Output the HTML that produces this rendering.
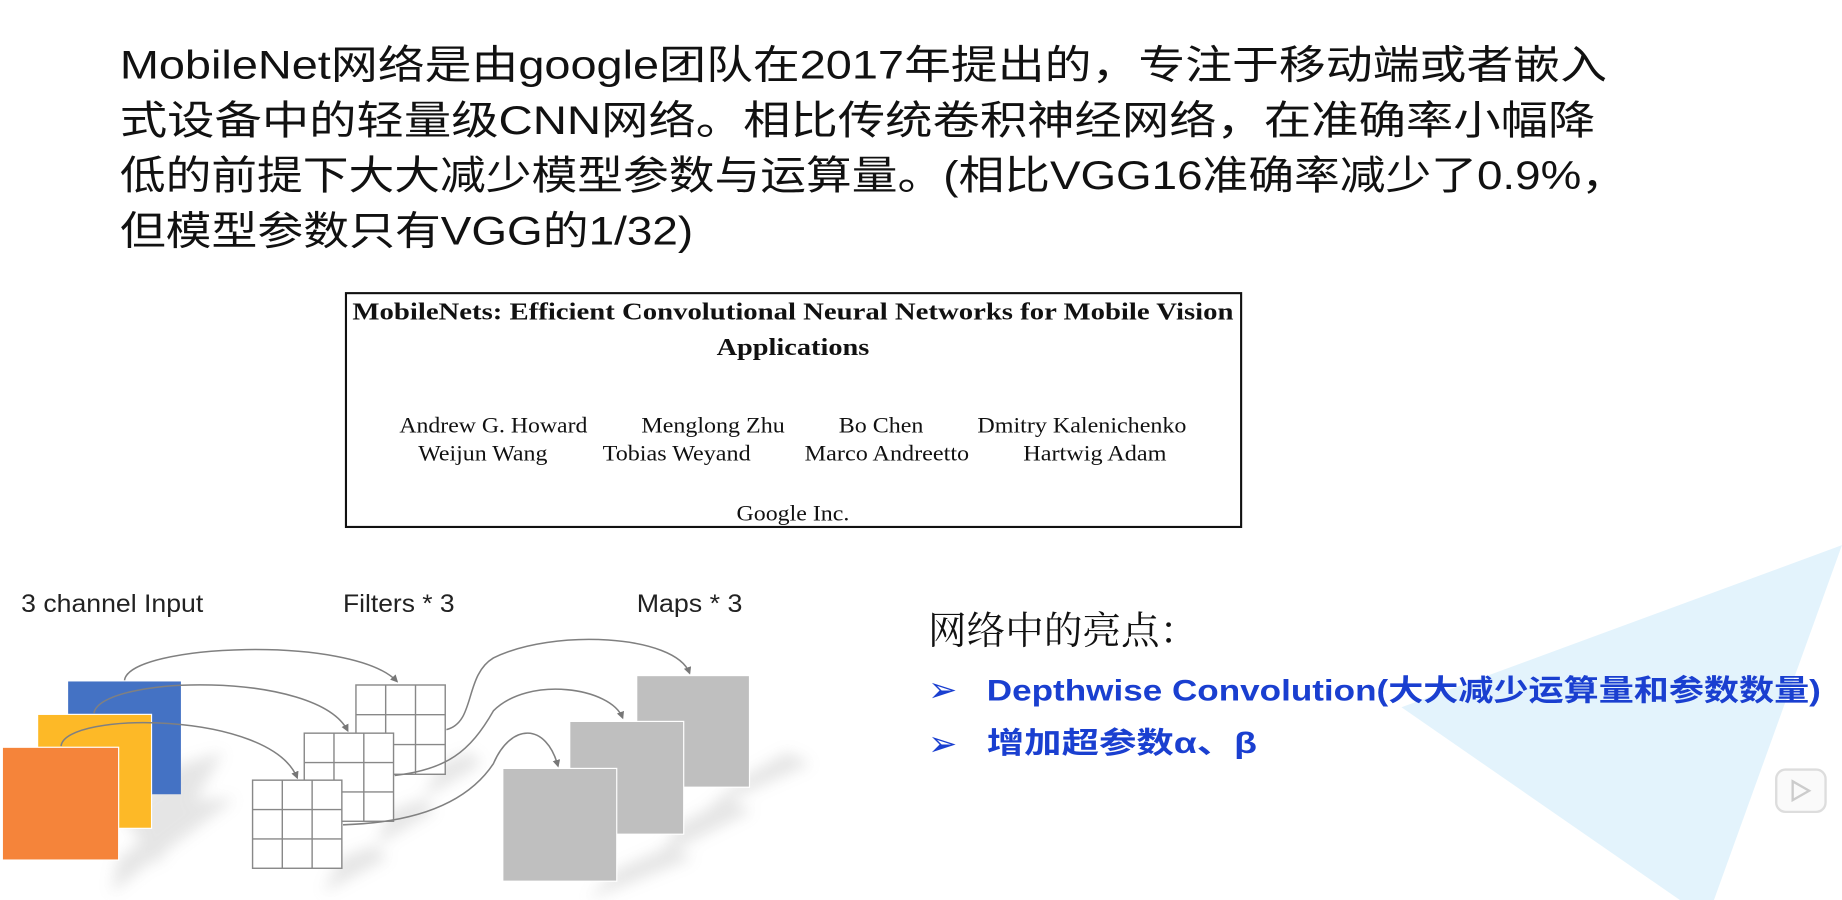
<!DOCTYPE html>
<html><head><meta charset="utf-8"><style>
html,body{margin:0;padding:0;background:#fff;overflow:hidden}
svg{display:block}
.t{font-family:"Liberation Sans","Noto Sans CJK SC",sans-serif}
.s{font-family:"Liberation Serif","Noto Serif CJK SC",serif}
</style></head><body>
<svg width="1842" height="900" viewBox="0 0 1568 766" preserveAspectRatio="none" xmlns="http://www.w3.org/2000/svg">
<defs>
<filter id="b" x="-50%" y="-50%" width="200%" height="200%"><feGaussianBlur stdDeviation="6"/></filter>
<marker id="ah" viewBox="0 0 10 10" refX="8" refY="5" markerWidth="5" markerHeight="5" orient="auto"><path d="M0,0 L10,5 L0,10 z" fill="#777"/></marker>
</defs>
<polygon points="1568,464 1193,602 1430,766 1459,766" fill="#e3f3fc"/>
<rect x="1512" y="655" width="42" height="36" rx="8" fill="#fafafa" stroke="#ddd" stroke-width="2"/>
<path d="M1526,665 L1540,673 L1526,681 Z" fill="none" stroke="#ccc" stroke-width="2"/>

<g class="t" font-size="34" fill="#111">
<text x="102" y="67" textLength="1266" lengthAdjust="spacingAndGlyphs">MobileNet网络是由google团队在2017年提出的，专注于移动端或者嵌入</text>
<text x="102" y="114" textLength="1256" lengthAdjust="spacingAndGlyphs">式设备中的轻量级CNN网络。相比传统卷积神经网络，在准确率小幅降</text>
<text x="102" y="161" textLength="1283" lengthAdjust="spacingAndGlyphs">低的前提下大大减少模型参数与运算量。(相比VGG16准确率减少了0.9%，</text>
<text x="102" y="208" textLength="488" lengthAdjust="spacingAndGlyphs">但模型参数只有VGG的1/32)</text>
</g>

<rect x="294.5" y="249.5" width="762" height="199" fill="#fff" stroke="#111" stroke-width="1.8"/>
<g class="s" fill="#111" text-anchor="middle">
<text x="675" y="272" font-size="21" font-weight="bold" textLength="750" lengthAdjust="spacingAndGlyphs">MobileNets: Efficient Convolutional Neural Networks for Mobile Vision</text>
<text x="675" y="302" font-size="21" font-weight="bold" textLength="130" lengthAdjust="spacingAndGlyphs">Applications</text>
<g font-size="19">
<text x="420" y="368" textLength="160" lengthAdjust="spacingAndGlyphs">Andrew G. Howard</text>
<text x="607" y="368" textLength="122" lengthAdjust="spacingAndGlyphs">Menglong Zhu</text>
<text x="750" y="368" textLength="72" lengthAdjust="spacingAndGlyphs">Bo Chen</text>
<text x="921" y="368" textLength="178" lengthAdjust="spacingAndGlyphs">Dmitry Kalenichenko</text>
<text x="411" y="392" textLength="110" lengthAdjust="spacingAndGlyphs">Weijun Wang</text>
<text x="576" y="392" textLength="126" lengthAdjust="spacingAndGlyphs">Tobias Weyand</text>
<text x="755" y="392" textLength="140" lengthAdjust="spacingAndGlyphs">Marco Andreetto</text>
<text x="932" y="392" textLength="122" lengthAdjust="spacingAndGlyphs">Hartwig Adam</text>
<text x="675" y="443" textLength="96" lengthAdjust="spacingAndGlyphs">Google Inc.</text>
</g></g>

<g class="t" font-size="21" fill="#222">
<text x="18" y="521" textLength="155" lengthAdjust="spacingAndGlyphs">3 channel Input</text>
<text x="292" y="521" textLength="95" lengthAdjust="spacingAndGlyphs">Filters * 3</text>
<text x="542" y="521" textLength="90" lengthAdjust="spacingAndGlyphs">Maps * 3</text>
</g>

<!-- shadows -->
<g fill="#aaa" opacity="0.3" filter="url(#b)">
<polygon points="100,690 155,650 190,640 135,735"/>
<polygon points="130,705 170,680 200,680 120,740"/>
<polygon points="100,732 140,700 170,700 95,760"/>
<polygon points="635,660 670,640 690,650 600,690"/>
<polygon points="580,700 620,680 640,690 560,730"/>
<polygon points="525,740 570,720 590,730 500,766"/>
<polygon points="375,650 400,640 410,650 360,680"/>
<polygon points="332,690 360,680 370,690 320,720"/>
<polygon points="290,730 318,720 330,730 275,760"/>
</g>

<!-- input -->
<rect x="58" y="580" width="96" height="96" fill="#4472c4"/>
<rect x="32" y="608" width="97" height="97" fill="#fdb927" stroke="#fff" stroke-width="1"/>
<rect x="2" y="636" width="99" height="96" fill="#f5843a" stroke="#fff" stroke-width="1"/>

<!-- grids -->
<g fill="#fff" stroke="#888" stroke-width="1.2">
<g transform="translate(303,583)"><rect width="76" height="76"/><path d="M25.3,0V76M50.7,0V76M0,25.3H76M0,50.7H76"/></g>
<g transform="translate(259,624)"><rect width="76" height="75"/><path d="M25.3,0V75M50.7,0V75M0,25H76M0,50H76"/></g>
<g transform="translate(215,664)"><rect width="76" height="75"/><path d="M25.3,0V75M50.7,0V75M0,25H76M0,50H76"/></g>
</g>

<!-- maps -->
<rect x="542" y="575" width="96" height="95" fill="#bfbfbf" stroke="#fff"/>
<rect x="485" y="614" width="97" height="96" fill="#bfbfbf" stroke="#fff"/>
<rect x="428" y="654" width="97" height="96" fill="#bfbfbf" stroke="#fff"/>

<!-- arrows -->
<g fill="none" stroke="#808080" stroke-width="1.3" marker-end="url(#ah)">
<path d="M106,579 C110,548 300,540 338,580"/>
<path d="M80,607 C85,575 270,570 296,622"/>
<path d="M52,635 C55,605 230,605 253,662"/>
<path d="M380,621 C405,615 395,575 420,560 C470,535 575,540 587,573"/>
<path d="M336,660 C380,655 400,640 420,605 C450,575 520,585 530,611"/>
<path d="M292,702 C360,700 400,680 420,650 C435,615 465,615 475,652"/>
</g>

<!-- right -->
<text class="s" x="790" y="548" font-size="33" fill="#111" textLength="230" lengthAdjust="spacingAndGlyphs">网络中的亮点：</text>
<g fill="#1a3fd0">
<text class="t" x="790" y="597" font-size="30">➢</text>
<text class="t" x="790" y="643" font-size="30">➢</text>
<text class="t" x="840" y="596" font-size="25" font-weight="bold" textLength="710" lengthAdjust="spacingAndGlyphs">Depthwise Convolution(大大减少运算量和参数数量)</text>
<text class="t" x="840" y="641" font-size="25" font-weight="bold" textLength="230" lengthAdjust="spacingAndGlyphs">增加超参数α、β</text>
</g>
</svg>
</body></html>
